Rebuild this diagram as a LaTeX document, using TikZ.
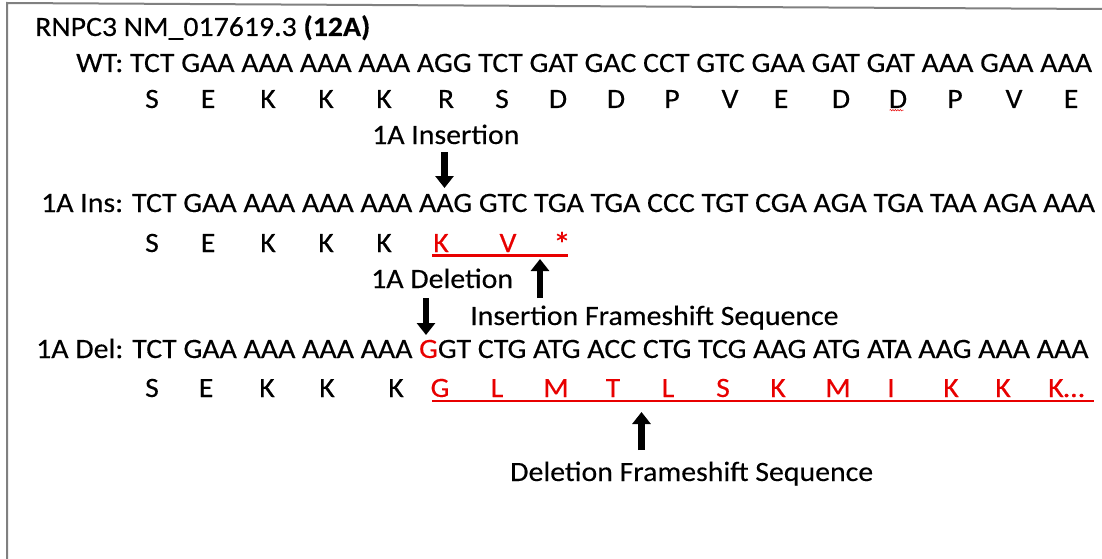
\documentclass[tikz,border=0pt]{standalone}
\usepackage{fontspec}
\setmainfont{Carlito}[FakeStretch=1.065, FakeBold=0.25]
\usetikzlibrary{arrows.meta,decorations.pathmorphing}
\definecolor{seqred}{RGB}{232,0,0}
\definecolor{framegray}{RGB}{128,128,128}
\tikzset{
  txt/.style={inner sep=0pt, anchor=base west, font=\fontsize{28}{32}\selectfont},
  aa/.style={inner sep=0pt, anchor=base, font=\fontsize{28}{32}\selectfont},
  aared/.style={aa, text=seqred},
  bigarrow/.style={line width=6.5pt, -{Triangle[length=12pt,width=18pt]}},
  redline/.style={seqred, line width=2.5pt},
  framestyle/.style={framegray, line width=2pt}
}
\begin{document}
\begin{tikzpicture}[x=1pt,y=-1pt]
\useasboundingbox (0,0) rectangle (1102,559);
\fill[white] (0,0) rectangle (1102,559);
\coordinate (fb) at (7,559);
\coordinate (ftl) at (7,3);
\coordinate (ftr) at (1102,9);
\draw[framestyle] (fb) -- (ftl) -- (ftr);

\node[txt] (title) at (35,36) {RNPC3 NM\_017619.3 \textbf{(12A)}};

% WT
\node[txt] (wt) at (76,72) {WT: TCT GAA AAA AAA AAA AGG TCT GAT GAC CCT GTC GAA GAT GAT AAA GAA AAA};
\foreach \x/\a [count=\i] in {152/S,208/E,268/K,326/K,384/K,446/R,502/S,558/D,616/D,672/P,730/V,781/E,841/D,898/D,955/P,1014/V,1071/E}
  \node[aa] (wtaa\i) at (\x,108) {\a};
\draw[seqred, line width=0.5pt, decorate, decoration={snake, amplitude=0.7pt, segment length=2.5pt}] (wtaa14.south west) ++(1,2) -- ++(14,0);

\node[txt] (insl) at (372,144) {1A Insertion};
\coordinate (a1s) at (444.5,152);
\coordinate (a1e) at (444.5,188);
\draw[bigarrow] (a1s) -- (a1e);

% Insertion
\node[txt] (ins) at (41,212) {1A Ins: TCT GAA AAA AAA AAA AAG GTC TGA TGA CCC TGT CGA AGA TGA TAA AGA AAA};
\foreach \x/\a [count=\i] in {152/S,208/E,268/K,326/K,384/K}
  \node[aa] (insaa\i) at (\x,252) {\a};
\foreach \x/\a [count=\i] in {441/K,508/V}
  \node[aared] (insr\i) at (\x,252) {\a};
\node[aared, font=\fontsize{34}{36}\selectfont] (insr3) at (562,256) {*};
\coordinate (iu1) at (432,255.5);
\coordinate (iu2) at (568,255.5);
\draw[redline] (iu1) -- (iu2);

\node[txt] (dell) at (371,288) {1A Deletion};
\coordinate (a2s) at (540,298);
\coordinate (a2e) at (540,259);
\draw[bigarrow] (a2s) -- (a2e);
\coordinate (a3s) at (426,298);
\coordinate (a3e) at (426,335);
\draw[bigarrow] (a3s) -- (a3e);
\node[txt] (ifs) at (470,325) {Insertion Frameshift Sequence};

% Deletion
\node[txt] (del) at (36,358) {1A Del: TCT GAA AAA AAA AAA {\color{seqred}G}GT CTG ATG ACC CTG TCG AAG ATG ATA AAG AAA AAA};
\foreach \x/\a [count=\i] in {152/S,206/E,267/K,327/K,396/K}
  \node[aa] (delaa\i) at (\x,397) {\a};
\foreach \x/\a [count=\i] in {440/G,497/L,556/M,613/T,668/L,723/S,778/K,838/M,891/I,951/K,1003/K}
  \node[aared] (delr\i) at (\x,397) {\a};
\node[txt, text=seqred] (delr12) at (1048,397) {K…};
\coordinate (du1) at (432,401);
\coordinate (du2) at (1094,401);
\draw[redline] (du1) -- (du2);

\coordinate (a4s) at (641.5,450);
\coordinate (a4e) at (641.5,412);
\draw[bigarrow] (a4s) -- (a4e);
\node[txt] (dfs) at (510,481) {Deletion Frameshift Sequence};
\end{tikzpicture}
\end{document}
